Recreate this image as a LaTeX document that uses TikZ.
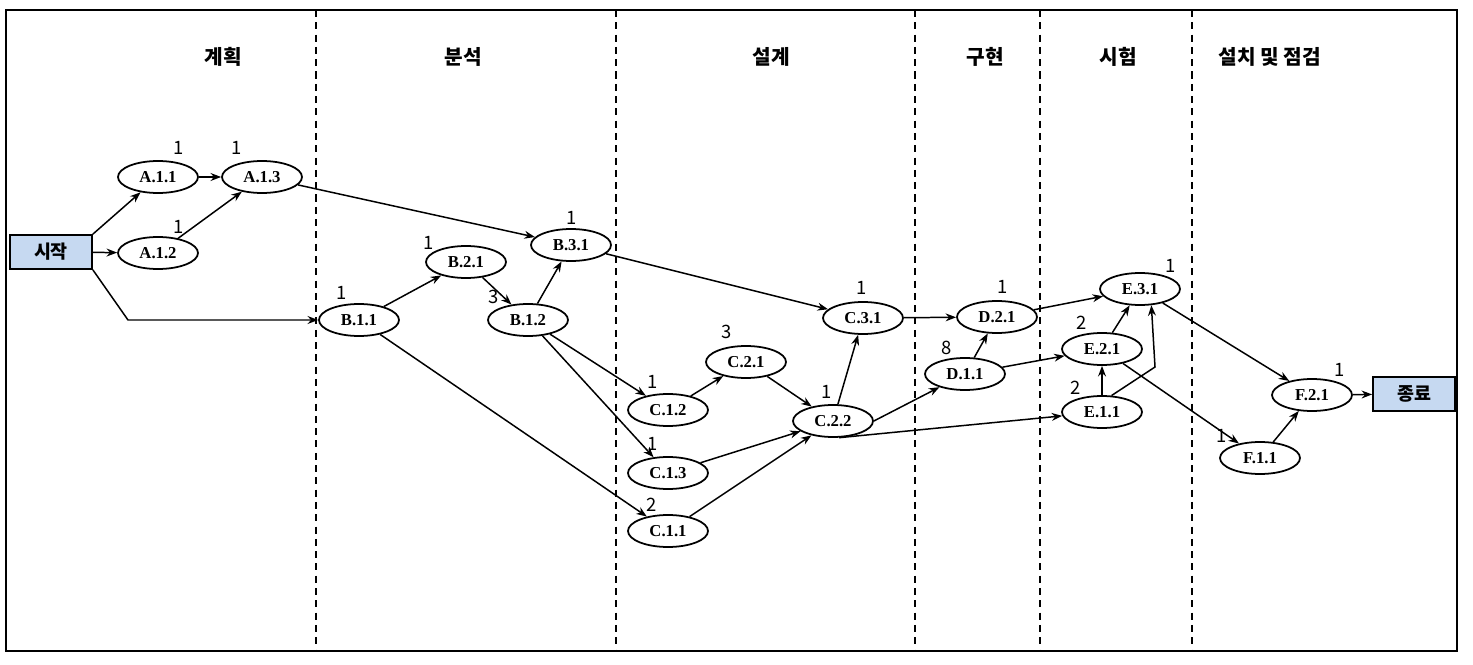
\documentclass[tikz,border=0pt]{standalone}
\usepackage{fontspec}
\setmainfont{Liberation Serif}
\newfontfamily\kr{Noto Sans CJK KR}
\usetikzlibrary{shapes.geometric,arrows.meta}
\definecolor{boxblue}{RGB}{198,217,241}
\tikzset{
  task/.style={ellipse,draw,line width=1pt,minimum width=1.6cm,minimum height=0.64cm,inner sep=0pt,font=\bfseries\fontsize{9.5}{11}\selectfont},
  term/.style={rectangle,draw,line width=1pt,fill=boxblue,minimum width=1.64cm,minimum height=0.68cm,inner sep=0pt,font=\kr\bfseries\fontsize{10.5}{11}\selectfont},
  wt/.style={font=\kr\fontsize{10.5}{11}\selectfont,inner sep=0pt},
  phase/.style={font=\kr\bfseries\fontsize{11.5}{12}\selectfont,inner sep=0pt},
  arr/.style={line width=0.85pt,-{Stealth[length=6pt,width=4.5pt]}},
  sep/.style={line width=1pt,dash pattern=on 4pt off 3pt},
}
\begin{document}
\begin{tikzpicture}[x=0.02cm,y=-0.02cm]
\useasboundingbox (0,0) rectangle (1473,665);
\draw[line width=0.8pt] (6,10) rectangle (1457,651);
% phase separators
\foreach \x in {316,616,915,1040,1192}{\draw[sep] (\x,10) -- (\x,651);}
% phase headers
\node[phase] (p1) at (223,57) {계획};
\node[phase] (p2) at (463,57) {분석};
\node[phase] (p3) at (771,57) {설계};
\node[phase] (p4) at (985,57) {구현};
\node[phase] (p5) at (1118,57) {시험};
\node[phase] (p6) at (1270,57) {설치 및 점검};
% terminals
\node[term] (start) at (51,252) {시작};
\node[term] (end) at (1414,394) {종료};
% tasks
\node[task] (a11) at (158,177) {A.1.1};
\node[task] (a13) at (262,177) {A.1.3};
\node[task] (a12) at (158,253) {A.1.2};
\node[task] (b11) at (359,320) {B.1.1};
\node[task] (b21) at (466,262) {B.2.1};
\node[task] (b31) at (571,245) {B.3.1};
\node[task] (b12) at (528,320) {B.1.2};
\node[task] (c31) at (863,318) {C.3.1};
\node[task] (c21) at (746,362) {C.2.1};
\node[task] (c12) at (668,410) {C.1.2};
\node[task] (c22) at (833,421) {C.2.2};
\node[task] (c13) at (668,473) {C.1.3};
\node[task] (c11) at (668,531) {C.1.1};
\node[task] (d21) at (997,317) {D.2.1};
\node[task] (d11) at (965,374) {D.1.1};
\node[task] (e31) at (1140,289) {E.3.1};
\node[task] (e21) at (1102,349) {E.2.1};
\node[task] (e11) at (1102,412) {E.1.1};
\node[task] (f21) at (1312,395) {F.2.1};
\node[task] (f11) at (1260,458) {F.1.1};
% weights
\node[wt] (wa11) at (179,148) {1};
\node[wt] (wa13) at (237,148) {1};
\node[wt] (wa12) at (179,227) {1};
\node[wt] (wb11) at (342,293) {1};
\node[wt] (wb21) at (429,243) {1};
\node[wt] (wb12) at (494,297) {3};
\node[wt] (wb31) at (572,218) {1};
\node[wt] (wc31) at (862,288) {1};
\node[wt] (wc21) at (727,332) {3};
\node[wt] (wc12) at (653,382) {1};
\node[wt] (wc22) at (827,392) {1};
\node[wt] (wc13) at (653,444) {1};
\node[wt] (wc11) at (652,505) {2};
\node[wt] (wd21) at (1003,287) {1};
\node[wt] (wd11) at (947,348) {8};
\node[wt] (we31) at (1171,266) {1};
\node[wt] (we21) at (1082,323) {2};
\node[wt] (we11) at (1076,388) {2};
\node[wt] (wf21) at (1340,370) {1};
\node[wt] (wf11) at (1222,436) {1};
% helper coordinates
\coordinate (sb) at (128,320);
\coordinate (eb) at (1155,367);
% connectors
\draw[arr] (start.north east) -- (a11);
\draw[arr] (start) -- (a12);
\draw[arr] (start.south east) -- (sb) -- (b11);
\draw[arr] (a11) -- (a13);
\draw[arr] (a12) -- (a13);
\draw[arr] (a13) -- (b31);
\draw[arr] (b11) -- (b21);
\draw[arr] (b11) -- (c11);
\draw[arr] (b21) -- (b12);
\draw[arr] (b12) -- (b31);
\draw[arr] (b12) -- (c12);
\draw[arr] (b12) -- (c13);
\draw[arr] (b31) -- (c31);
\draw[arr] (c12) -- (c21);
\draw[arr] (c21) -- (c22);
\draw[arr] (c13) -- (c22);
\draw[arr] (c11) -- (c22);
\draw[arr] (c22) -- (c31);
\draw[arr] (c22.east) -- (d11);
\draw[arr] (c22.-70) -- (e11);
\draw[arr] (c31) -- (d21);
\draw[arr] (d11) -- (d21);
\draw[arr] (d11) -- (e21);
\draw[arr] (d21) -- (e31);
\draw[arr] (e21) -- (e31);
\draw[arr] (e11) -- (e21);
\draw[arr] (e11.60) -- (eb) -- (e31.-55);
\draw[arr] (e21) -- (f11);
\draw[arr] (e31) -- (f21);
\draw[arr] (f11) -- (f21);
\draw[arr] (f21) -- (end);
\end{tikzpicture}
\end{document}
